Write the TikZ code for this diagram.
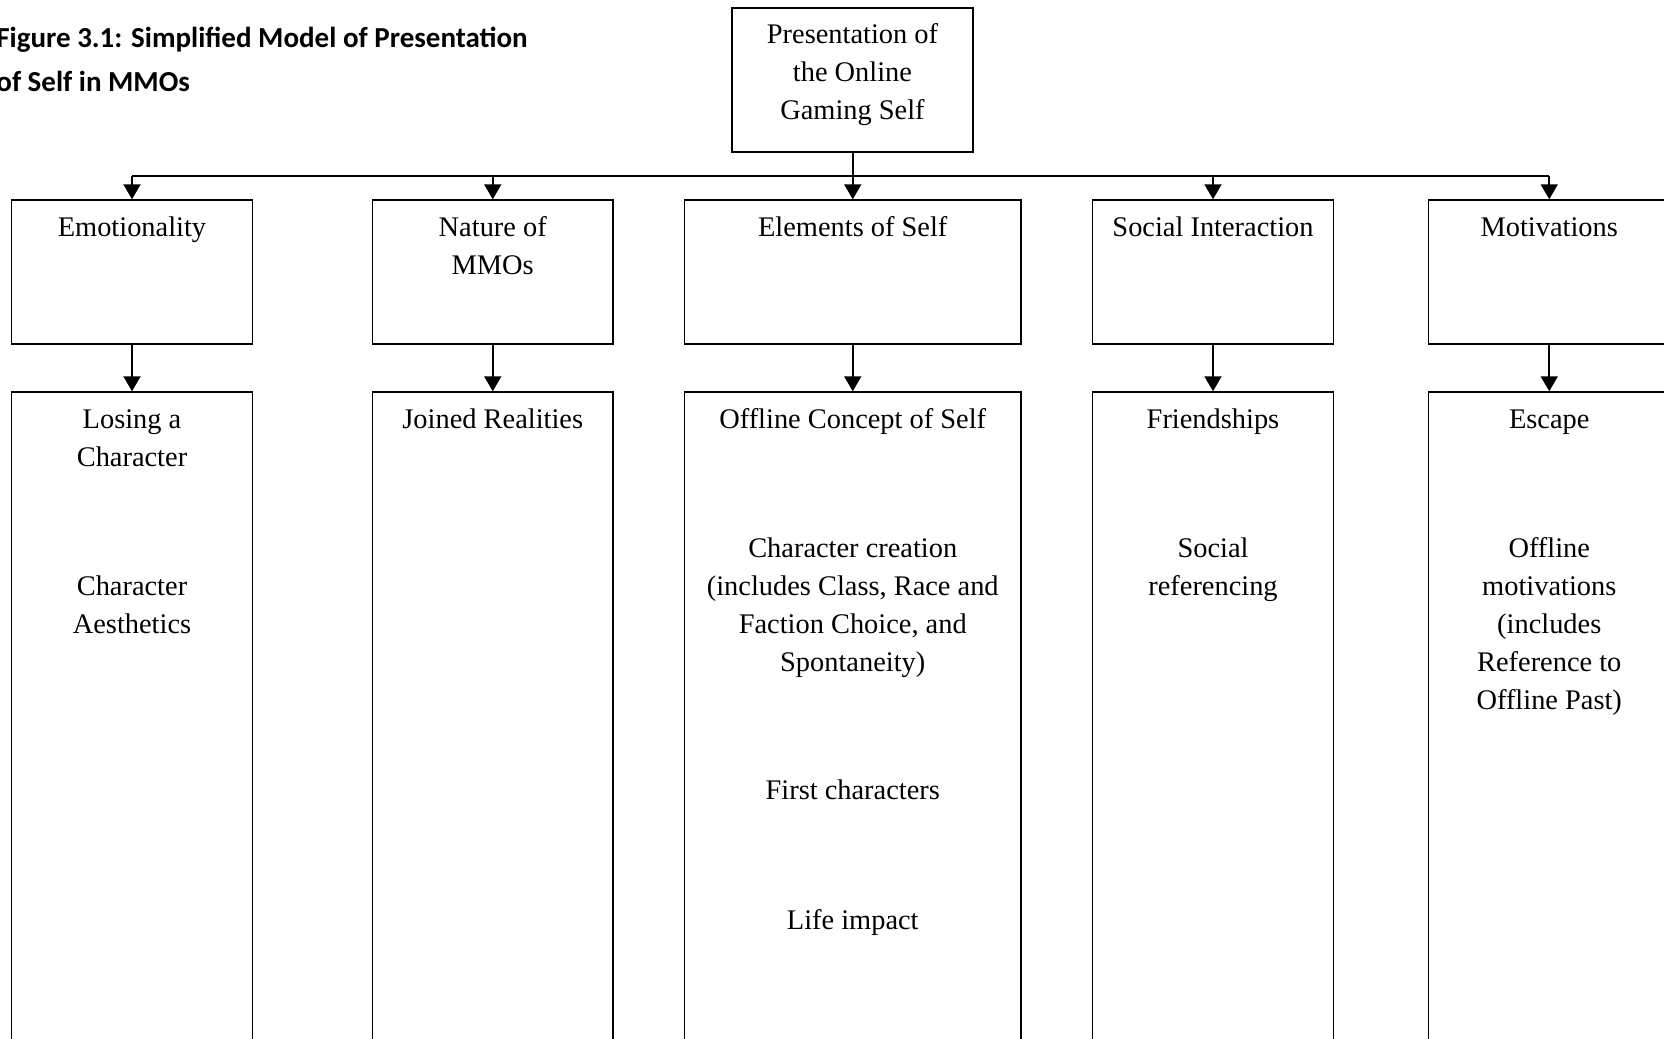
\documentclass[tikz,border=0pt]{standalone}
\usepackage{fontspec}
\setmainfont{Liberation Serif}
\newfontfamily\titlefont{Carlito}
\usetikzlibrary{arrows.meta}
\begin{document}
\begin{tikzpicture}[x=0.5pt,y=-0.5pt,
  box/.style={draw=black,line width=0.75pt,rectangle,inner sep=0pt,anchor=center},
  txt/.style={anchor=base,align=center,inner sep=0pt,font=\fontsize{14.2pt}{19pt}\selectfont},
  conn/.style={draw=black,line width=1pt},
  arr/.style={conn,-{Triangle[width=8.5pt,length=7.5pt]}},
  ttl/.style={anchor=base west,align=left,inner sep=0pt,font=\titlefont\bfseries\fontsize{14.5pt}{21.75pt}\selectfont}]
\useasboundingbox (0,0) rectangle (1664,1038);
% title (anchor = baseline of its last line)
\node[ttl] (title) at (-4,91) {Figure 3.1: Simplified Model of Presentation\\of Self in MMOs};
% top box
\node[box,minimum width=120.5pt,minimum height=72pt] (top) at (852.5,80) {};
\node[txt] (toptxt) at (852.5,119.5) {Presentation of\\the Online\\Gaming Self};
% row 1
\node[box,minimum width=120.5pt,minimum height=72pt] (emo) at (132,272) {};
\node[box,minimum width=120.25pt,minimum height=72pt] (nat) at (492.75,272) {};
\node[box,minimum width=168.25pt,minimum height=72pt] (ele) at (852.75,272) {};
\node[box,minimum width=120.5pt,minimum height=72pt] (soc) at (1213,272) {};
\node[box,minimum width=120.75pt,minimum height=72pt] (mot) at (1549.25,272) {};
\node[txt] (emot) at (132,236.5) {Emotionality};
\node[txt] (natt) at (492.75,274.5) {Nature of\\MMOs};
\node[txt] (elet) at (852.75,236.5) {Elements of Self};
\node[txt] (soct) at (1213,236.5) {Social Interaction};
\node[txt] (mott) at (1549.25,236.5) {Motivations};
% row 2
\node[box,minimum width=120.5pt,minimum height=340pt] (emo2) at (132,732) {};
\node[box,minimum width=120.25pt,minimum height=340pt] (nat2) at (492.75,732) {};
\node[box,minimum width=168.25pt,minimum height=340pt] (ele2) at (852.75,732) {};
\node[box,minimum width=120.5pt,minimum height=340pt] (soc2) at (1213,732) {};
\node[box,minimum width=120.75pt,minimum height=340pt] (mot2) at (1549.25,732) {};
% row 2 texts
\node[txt] (e2a) at (132,466) {Losing a\\Character};
\node[txt] (e2b) at (132,633) {Character\\Aesthetics};
\node[txt] (n2a) at (492.75,428) {Joined Realities};
\node[txt] (l2a) at (852.75,428) {Offline Concept of Self};
\node[txt] (l2b) at (852.75,671) {Character creation\\(includes Class, Race and\\Faction Choice, and\\Spontaneity)};
\node[txt] (l2c) at (852.75,799) {First characters};
\node[txt] (l2d) at (852.75,929) {Life impact};
\node[txt] (s2a) at (1213,428) {Friendships};
\node[txt] (s2b) at (1213,595) {Social\\referencing};
\node[txt] (m2a) at (1549.25,428) {Escape};
\node[txt] (m2b) at (1549.25,709) {Offline\\motivations\\(includes\\Reference to\\Offline Past)};
% connectors
\coordinate (hub) at (852.5,176);
\draw[conn] (top.south) -- (hub);
\draw[conn] (emo.north |- hub) -- (mot.north |- hub);
\foreach \b in {emo,nat,ele,soc,mot}{
  \draw[arr] (\b.north |- hub) -- (\b.north);
  \draw[arr] (\b.south) -- (\b2.north);
}
\end{tikzpicture}
\end{document}
